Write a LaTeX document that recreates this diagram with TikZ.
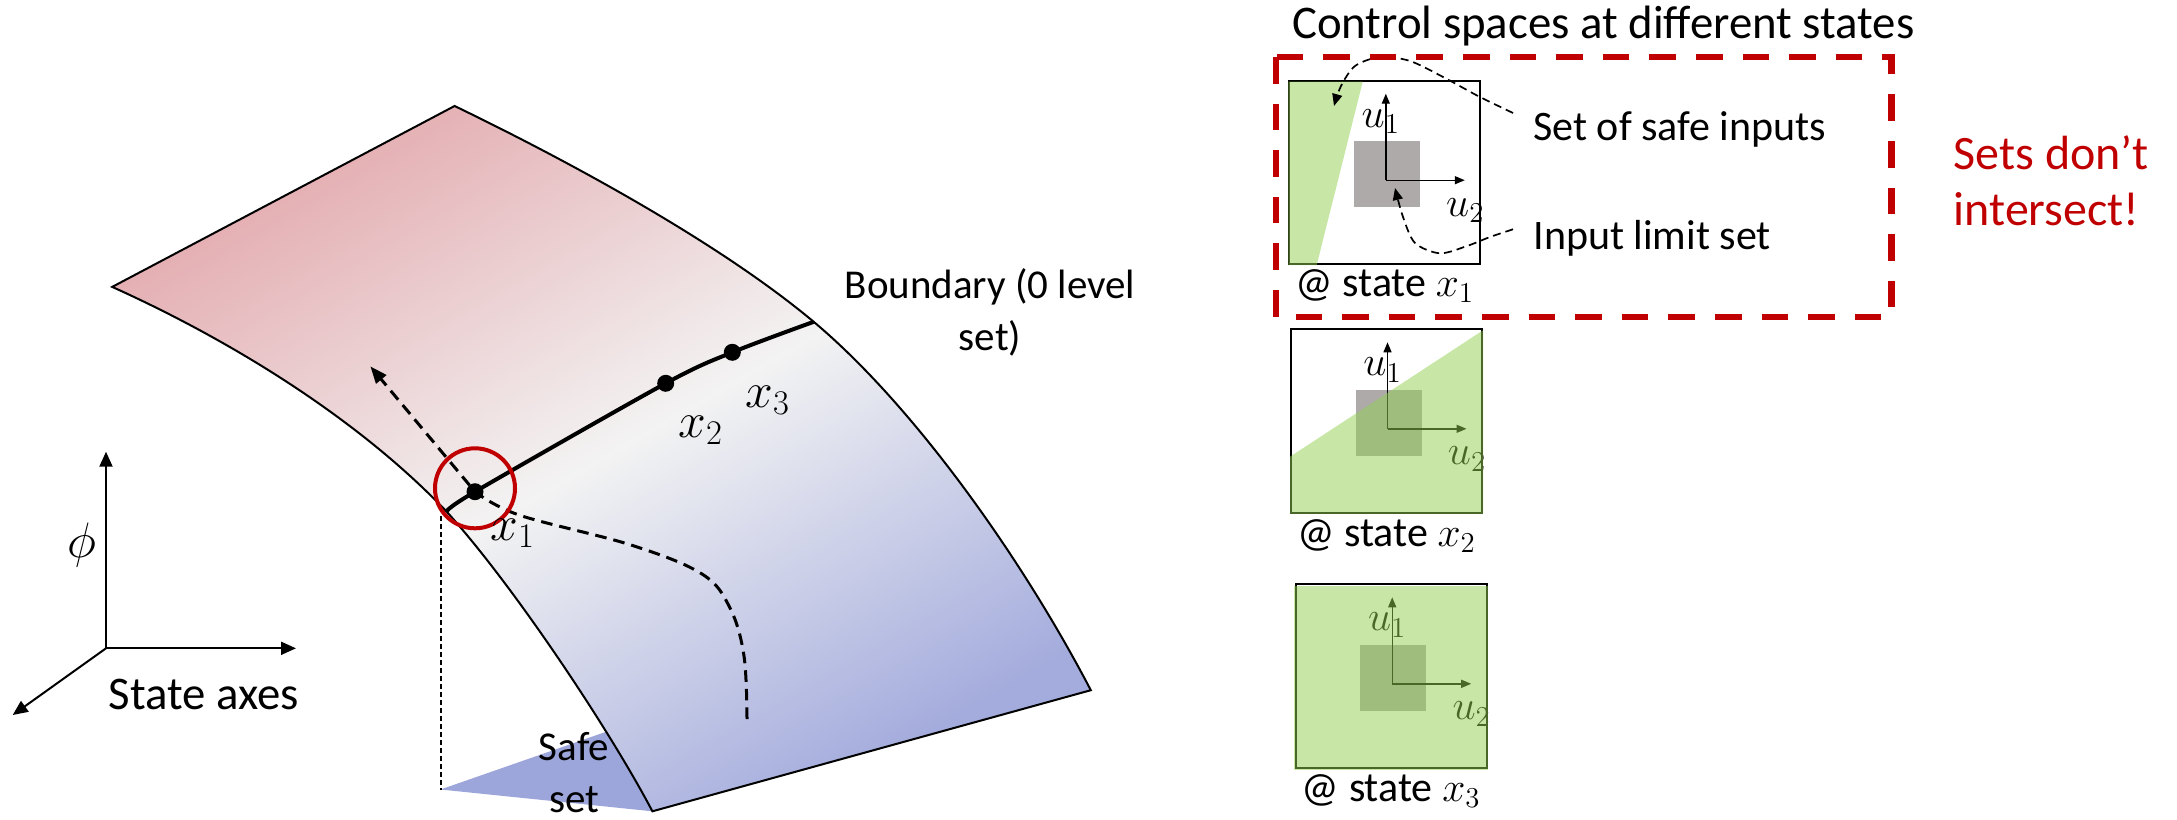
\documentclass[tikz,border=0pt]{standalone}
\usepackage{fontspec}
\setmainfont{Carlito}
\usetikzlibrary{arrows.meta}
\definecolor{pptred}{RGB}{192,0,0}
\definecolor{surfpink}{RGB}{228,174,178}
\definecolor{surfmid}{RGB}{243,243,243}
\definecolor{surfblue}{RGB}{164,172,221}
\definecolor{safeblue}{RGB}{157,166,219}
\definecolor{limitgrey}{RGB}{174,170,170}
\definecolor{safegreen}{RGB}{146,208,80}
\tikzset{
  edgeline/.style={line width=1pt},
  bnd/.style={line width=2pt},
  dotnode/.style={circle, fill=black, inner sep=0pt, minimum size=8.5pt},
  ax/.style={line width=1pt, -{Triangle[length=7.5pt,width=6.5pt]}},
  traj/.style={line width=1.5pt, dash pattern=on 5.8pt off 3.5pt, -{Triangle[length=8.5pt,width=6.5pt]}},
  call/.style={line width=0.85pt, dash pattern=on 4pt off 2.5pt, -{Triangle[length=6pt,width=5pt]}},
  uax/.style={line width=0.7pt, -{Triangle[length=5pt,width=4pt]}},
  lbl/.style={inner sep=0pt, font=\fontsize{20.5}{26}\selectfont},
  biglbl/.style={inner sep=0pt, font=\fontsize{23.4}{28}\selectfont},
  ulbl/.style={inner sep=0pt, font=\fontsize{19.5}{22}\selectfont},
  xlbl/.style={inner sep=0pt, font=\fontsize{23}{26}\selectfont},
  ctrlbox/.style={line width=1pt},
  greenset/.style={fill=safegreen, opacity=0.5},
}
\begin{document}
\begin{tikzpicture}[x=0.5pt,y=-0.5pt]
\useasboundingbox (0,0) rectangle (2177,819);

% ---------- value function surface ----------
\coordinate (T) at (454.6,106);
\coordinate (L) at (112.2,286.9);
\coordinate (BR) at (813.7,321.8);
\coordinate (BRc) at (1090.8,690.2);
\coordinate (BL) at (652.4,811.3);
\coordinate (E1) at (446.7,511.7);

\fill[safeblue] (440.5,789.5) -- (614,729) -- (BL) -- cycle;

\shadedraw[edgeline, top color=surfpink, bottom color=surfblue, middle color=surfmid, shading angle=30]
  (T) .. controls (574.6,164) and (721.8,244.8) .. (BR)
      .. controls (913.3,405.3) and (1021.5,557.2) .. (BRc)
      -- (BL)
      .. controls (610.6,731.6) and (514.2,586.2) .. (E1)
      .. controls (357.8,418.3) and (230.5,340.2) .. (L)
      -- cycle;

\draw[line width=1pt, dash pattern=on 2.5pt off 1.5pt] (440.5,516) -- (440.5,789.5);

\coordinate (x1c) at (475,491.7);
\coordinate (x2c) at (665.7,383.3);
\coordinate (x3c) at (732.3,352.3);
\coordinate (tip) at (370.4,366.4);

\draw[traj] plot[smooth, tension=0.6] coordinates {(747,719) (744,656) (730,608) (702,574) (631,545) (519,515) (x1c)} -- (tip);

\draw[bnd] plot[smooth] coordinates {(E1) (x1c) (x2c) (x3c) (BR)};

\node[dotnode] (X1) at (x1c) {};
\node[dotnode] (X2) at (x2c) {};
\node[dotnode] (X3) at (x3c) {};
\node[draw=pptred, line width=2pt, circle, minimum size=40pt, inner sep=0pt] (ring) at (475,488.3) {};

\node[xlbl, anchor=base west] (lx1) at (490,540) {$x_1$};
\node[xlbl, anchor=base west] (lx2) at (678,437) {$x_2$};
\node[xlbl, anchor=base west] (lx3) at (745,407) {$x_3$};

\node[lbl, align=center, anchor=base] (bndtxt) at (990,350) {Boundary (0 level\\set)};
\node[lbl, align=center, anchor=base] (safetxt) at (574,812) {Safe\\set};

% ---------- axes ----------
\coordinate (O) at (106,648.3);
\coordinate (Oup) at (106,451.7);
\coordinate (Oright) at (296,648.3);
\coordinate (Odiag) at (12.7,715);
\draw[ax] (O) -- (Oup);
\draw[ax] (O) -- (Oright);
\draw[ax] (O) -- (Odiag);
\node[inner sep=0pt, font=\fontsize{24.5}{28}\selectfont] (phi) at (81.7,545) {$\phi$};
\node[biglbl, anchor=base west] (stax) at (108.3,709.3) {State axes};

% ---------- control spaces ----------
\node[biglbl, anchor=base west] (title) at (1291.7,38.3) {Control spaces at different states};

% box 1
\begin{scope}[shift={(1289.3,80.7)}]
  \coordinate (o1) at (96.5,99.5);
  \fill[limitgrey] (64.5,60.5) rectangle (130.5,126.5);
  \draw[uax] (o1) -- ++(0,-86.5);
  \draw[uax] (o1) -- ++(79,0);
  \node[ulbl, anchor=base west] at (72,46.5) {$u_1$};
  \node[ulbl, anchor=base west] at (156.5,135.5) {$u_2$};
  \draw[ctrlbox] (0,0) rectangle (191,183.5);
  \fill[greenset] (-1,1) -- (73.4,1) -- (27.4,184.5) -- (-1,184.5) -- cycle;
  \node[lbl, anchor=base, font=\fontsize{21}{24}\selectfont] (s1) at (95.5,216) {@ state $x_1$};
\end{scope}

% box 2
\begin{scope}[shift={(1291,329.3)}]
  \coordinate (o2) at (96.5,99.5);
  \fill[limitgrey] (64.5,60.5) rectangle (130.5,126.5);
  \draw[uax] (o2) -- ++(0,-86.5);
  \draw[uax] (o2) -- ++(79,0);
  \node[ulbl, anchor=base west] at (72,46.5) {$u_1$};
  \node[ulbl, anchor=base west] at (156.5,135.5) {$u_2$};
  \draw[ctrlbox] (0,0) rectangle (191,183.5);
  \fill[greenset] (-1,127.4) -- (192,1) -- (192,184.5) -- (-1,184.5) -- cycle;
  \node[lbl, anchor=base, font=\fontsize{21}{24}\selectfont] (s2) at (95.5,217) {@ state $x_2$};
\end{scope}

% box 3
\begin{scope}[shift={(1295.7,584.3)}]
  \coordinate (o3) at (96.5,99.5);
  \fill[limitgrey] (64.5,60.5) rectangle (130.5,126.5);
  \draw[uax] (o3) -- ++(0,-86.5);
  \draw[uax] (o3) -- ++(79,0);
  \node[ulbl, anchor=base west] at (72,46.5) {$u_1$};
  \node[ulbl, anchor=base west] at (156.5,135.5) {$u_2$};
  \draw[ctrlbox] (0,0) rectangle (191,183.5);
  \fill[greenset] (-2,1.5) rectangle (192,186);
  \node[lbl, anchor=base, font=\fontsize{21}{24}\selectfont] (s3) at (95.5,217) {@ state $x_3$};
\end{scope}

% callouts
\node[lbl, anchor=base west, font=\fontsize{21}{26}\selectfont] (safein) at (1533,140) {Set of safe inputs};
\node[lbl, anchor=base west, font=\fontsize{21}{26}\selectfont] (limin) at (1533,249.3) {Input limit set};
\coordinate (ca) at (1513,113);
\coordinate (cb) at (1513,229.3);
\draw[call] plot[smooth] coordinates {(ca) (1478,96) (1445,78) (1410,61) (1380,57) (1355,66) (1341,86) (1334,106)};
\draw[call] plot[smooth] coordinates {(cb) (1490,237) (1467,246) (1440,253.3) (1415,243) (1403,217) (1395,188)};

% highlight
\draw[pptred, line width=3.3pt, dash pattern=on 13.3pt off 10pt] (1276,57) rectangle (1891.7,317);
\node[inner sep=0pt, anchor=base west, align=left, text=pptred, font=\fontsize{24}{28}\selectfont] (nointer) at (1953.3,225) {Sets don’t\\intersect!};

\end{tikzpicture}
\end{document}
